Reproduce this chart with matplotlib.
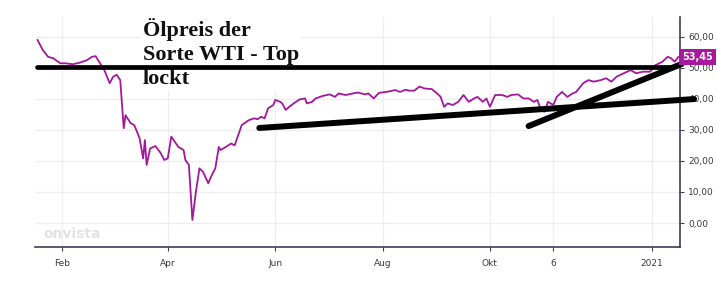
import matplotlib
matplotlib.use("Agg")
import matplotlib.pyplot as plt
import pandas as pd

dates = [
    "2020-01-18", "2020-01-21", "2020-01-24", "2020-01-27", "2020-01-31", "2020-02-03",
    "2020-02-07", "2020-02-11", "2020-02-15", "2020-02-18", "2020-02-20", "2020-02-22",
    "2020-02-25", "2020-02-28", "2020-03-01", "2020-03-03", "2020-03-05", "2020-03-07",
    "2020-03-08", "2020-03-11", "2020-03-13", "2020-03-16", "2020-03-18", "2020-03-19",
    "2020-03-20", "2020-03-22", "2020-03-25", "2020-03-28", "2020-03-30", "2020-04-01",
    "2020-04-03", "2020-04-07", "2020-04-10", "2020-04-11", "2020-04-13", "2020-04-15",
    "2020-04-17", "2020-04-19", "2020-04-21", "2020-04-24", "2020-04-26", "2020-04-28",
    "2020-04-30", "2020-05-01", "2020-05-04", "2020-05-07", "2020-05-09", "2020-05-13",
    "2020-05-17", "2020-05-20", "2020-05-22", "2020-05-24", "2020-05-26", "2020-05-28",
    "2020-05-31", "2020-06-01", "2020-06-04", "2020-06-05", "2020-06-07", "2020-06-09",
    "2020-06-12", "2020-06-15", "2020-06-18", "2020-06-19", "2020-06-22", "2020-06-24",
    "2020-06-28", "2020-07-02", "2020-07-05", "2020-07-07", "2020-07-11", "2020-07-15",
    "2020-07-18", "2020-07-22", "2020-07-24", "2020-07-27", "2020-07-30", "2020-08-03",
    "2020-08-06", "2020-08-08", "2020-08-11", "2020-08-14", "2020-08-16", "2020-08-19",
    "2020-08-22", "2020-08-25", "2020-08-29", "2020-09-01", "2020-09-03", "2020-09-05",
    "2020-09-07", "2020-09-10", "2020-09-13", "2020-09-16", "2020-09-19", "2020-09-22",
    "2020-09-24", "2020-09-27", "2020-09-29", "2020-10-01", "2020-10-04", "2020-10-08",
    "2020-10-11", "2020-10-13", "2020-10-17", "2020-10-20", "2020-10-23", "2020-10-26",
    "2020-10-28", "2020-10-30", "2020-11-01", "2020-11-03", "2020-11-06", "2020-11-08",
    "2020-11-11", "2020-11-14", "2020-11-17", "2020-11-19", "2020-11-23", "2020-11-26",
    "2020-11-29", "2020-12-03", "2020-12-06", "2020-12-09", "2020-12-12", "2020-12-16",
    "2020-12-20", "2020-12-23", "2020-12-27", "2020-12-31", "2021-01-03", "2021-01-07",
    "2021-01-10", "2021-01-12", "2021-01-14", "2021-01-16",
]
prices = [
    58.9, 55.7, 53.5, 53.0, 51.4, 51.4,
    51.1, 51.6, 52.4, 53.5, 53.7, 51.9,
    49.2, 45.0, 47.1, 47.7, 46.0, 30.5,
    34.7, 32.1, 31.5, 27.3, 20.8, 26.7,
    18.7, 24.0, 24.8, 22.5, 20.3, 20.8,
    27.8, 24.5, 23.5, 20.3, 18.7, 1.0,
    10.1, 17.6, 16.5, 12.8, 15.4, 17.6,
    24.5, 23.5, 24.5, 25.6, 25.0, 31.5,
    33.1, 33.7, 33.4, 34.2, 33.7, 36.9,
    38.0, 39.6, 39.0, 38.5, 36.4, 37.4,
    38.7, 39.8, 40.1, 38.5, 39.0, 40.1,
    40.9, 41.4, 40.6, 41.7, 41.2, 41.7,
    42.0, 41.4, 41.7, 40.1, 41.9, 42.2,
    42.5, 42.8, 42.2, 42.9, 42.6, 42.6,
    43.9, 43.3, 43.1, 41.7, 40.6, 37.4,
    38.5, 38.0, 39.0, 41.2, 39.0, 40.1,
    40.6, 39.0, 40.1, 37.4, 41.2, 41.2,
    40.6, 41.2, 41.4, 40.1, 40.1, 39.0,
    39.6, 36.4, 35.8, 39.0, 38.0, 40.6,
    42.2, 40.6, 41.7, 42.2, 45.0, 46.0,
    45.5, 46.0, 46.6, 45.5, 47.1, 48.2,
    49.2, 48.2, 48.7, 48.7, 50.8, 51.9,
    53.5, 53.0, 51.9, 53.45,
]
last_label = "53,45"

tick_dates = ["2020-02-01", "2020-04-01", "2020-06-01", "2020-08-01",
              "2020-10-01", "2020-11-06", "2021-01-01"]
tick_labels = ["Feb", "Apr", "Jun", "Aug", "Okt", "6", "2021"]
y_ticks = [0, 10, 20, 30, 40, 50, 60]

# hand-drawn annotation lines: (start date, start value, end date, end value, width)
ann_lines = [
    ("2020-01-18", 50.2, "2021-01-12", 50.2, 3.4),
    ("2020-05-23", 30.6, "2021-01-25", 39.9, 4.3),
    ("2020-10-23", 31.2, "2021-01-18", 51.2, 4.3),
]
title_text = "Ölpreis der\nSorte WTI - Top\nlockt"

line_color = "#a3179c"
axis_color = "#3d3d5c"

fig = plt.figure(figsize=(7.17, 2.95), dpi=100)
ax = fig.add_axes([35 / 717, 48.3 / 295, (680 - 35) / 717, (278 - 48.3) / 295])

x = pd.to_datetime(dates)
ax.plot(x, prices, color=line_color, lw=1.3, zorder=3)

ax.set_xlim(pd.Timestamp("2020-01-16 14:00"), pd.Timestamp("2021-01-17"))
ax.set_ylim(-7.6, 66.3)

ax.set_xticks(pd.to_datetime(tick_dates))
ax.set_xticklabels(tick_labels)
ax.set_yticks(y_ticks)
ax.set_yticklabels([f"{v:.2f}".replace(".", ",") for v in y_ticks])
ax.yaxis.tick_right()

for s in ["top", "left"]:
    ax.spines[s].set_visible(False)
for s in ["right", "bottom"]:
    ax.spines[s].set_color(axis_color)
    ax.spines[s].set_linewidth(1.2)

ax.tick_params(axis="both", colors=axis_color, labelcolor="#3a3a3a",
               labelsize=6.5, length=3, width=0.8)
ax.tick_params(axis="x", pad=6)
ax.tick_params(axis="y", pad=3)
ax.grid(True, color="#eeeeee", lw=0.9, zorder=0)
ax.set_axisbelow(True)

# watermark
ax.text(43 / 717, 1 - 234 / 295, "onvista", transform=fig.transFigure,
        fontsize=10, fontweight="bold", color="#e2e2e2", va="center",
        ha="left", family="DejaVu Sans", zorder=1)

# title block with white background
ax.text(143 / 717, 1 - 18 / 295, title_text, transform=fig.transFigure,
        family="Liberation Serif", fontweight="bold", fontsize=16,
        color="#111111", va="top", ha="left", linespacing=1.25,
        bbox=dict(facecolor="white", edgecolor="none", pad=1.5), zorder=4)

for d0, v0, d1, v1, lw in ann_lines:
    ax.plot([pd.Timestamp(d0), pd.Timestamp(d1)], [v0, v1], color="black",
            lw=lw, solid_capstyle="round", clip_on=False, zorder=5)

# last price label
ax.annotate(last_label, xy=(1.0, prices[-1]), xycoords=("axes fraction", "data"),
            xytext=(1.5, 0), textcoords="offset points", va="center", ha="left",
            fontsize=7, fontweight="bold", color="white",
            bbox=dict(boxstyle="square,pad=0.35", facecolor="#a8189e", edgecolor="none"),
            annotation_clip=False, zorder=6)

fig.savefig("out.png", dpi=100)
